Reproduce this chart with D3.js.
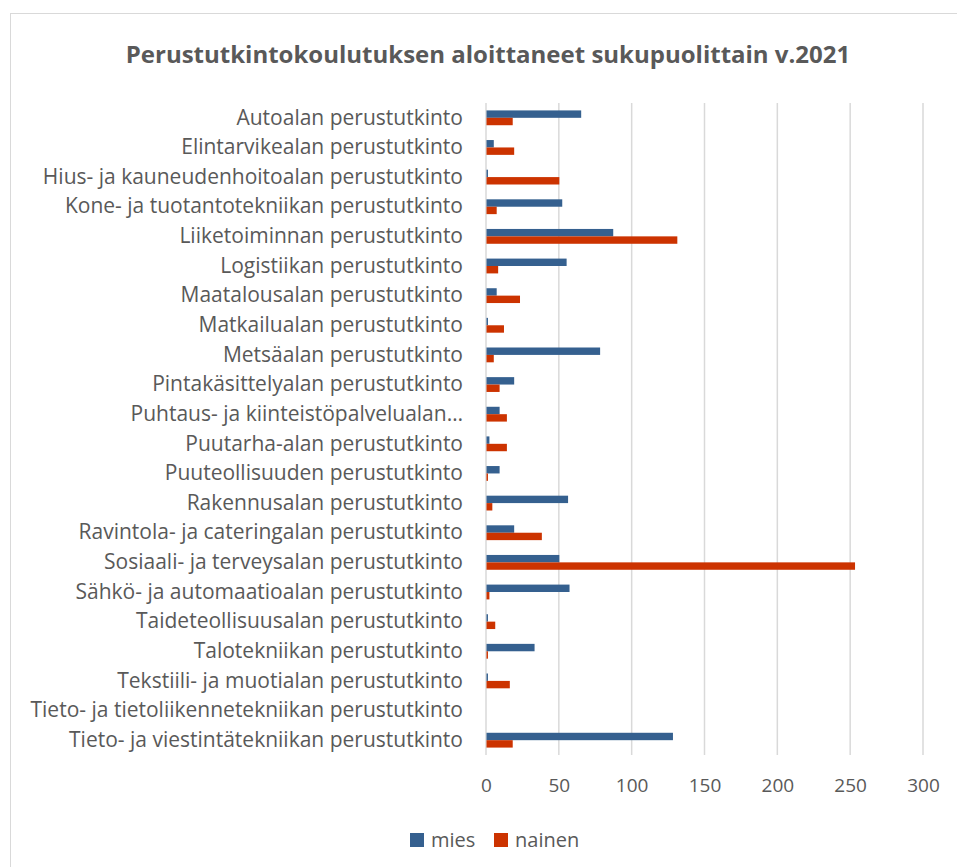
<!DOCTYPE html>
<html>
<head>
<meta charset="utf-8">
<script src="https://cdn.jsdelivr.net/npm/d3@7"></script>
<style>
  body { margin: 0; background: #fff; }
  text { font-family: "Open Sans", Lato, sans-serif; fill: #595959; }
</style>
</head>
<body>
<div id="chart"></div>
<script>
// chart data
const categories = [
  'Autoalan perustutkinto',
  'Elintarvikealan perustutkinto',
  'Hius- ja kauneudenhoitoalan perustutkinto',
  'Kone- ja tuotantotekniikan perustutkinto',
  'Liiketoiminnan perustutkinto',
  'Logistiikan perustutkinto',
  'Maatalousalan perustutkinto',
  'Matkailualan perustutkinto',
  'Metsäalan perustutkinto',
  'Pintakäsittelyalan perustutkinto',
  'Puhtaus- ja kiinteistöpalvelualan…',
  'Puutarha-alan perustutkinto',
  'Puuteollisuuden perustutkinto',
  'Rakennusalan perustutkinto',
  'Ravintola- ja cateringalan perustutkinto',
  'Sosiaali- ja terveysalan perustutkinto',
  'Sähkö- ja automaatioalan perustutkinto',
  'Taideteollisuusalan perustutkinto',
  'Talotekniikan perustutkinto',
  'Tekstiili- ja muotialan perustutkinto',
  'Tieto- ja tietoliikennetekniikan perustutkinto',
  'Tieto- ja viestintätekniikan perustutkinto'
];
const mies   = [65, 5, 1, 52, 87, 55, 7, 1, 78, 19, 9, 2, 9, 56, 19, 50, 57, 1, 33, 1, 0, 128];
const nainen = [18, 19, 50, 7, 131, 8, 23, 12, 5, 9, 14, 14, 1, 4, 38, 253, 2, 6, 1, 16, 0, 18];
const seriesNames = ['mies', 'nainen'];
const colors = ['#35608f', '#cc3300'];
const xTicks = [0, 50, 100, 150, 200, 250, 300];

const width = 957, height = 867;
const margin = { top: 103, right: 34, bottom: 112, left: 486 };

const svg = d3.select('#chart').append('svg')
  .attr('width', width)
  .attr('height', height);

// chart frame
svg.append('rect')
  .attr('x', 10.5).attr('y', 13.5)
  .attr('width', width + 20).attr('height', height + 20)
  .attr('fill', 'none')
  .attr('stroke', '#d9d9d9');

// title
svg.append('text')
  .attr('x', 488).attr('y', 63)
  .attr('text-anchor', 'middle')
  .style('font-size', '24px')
  .style('font-weight', 'bold')
  .text('Perustutkintokoulutuksen aloittaneet sukupuolittain v.2021');

const x = d3.scaleLinear().domain([0, 300]).range([margin.left, width - margin.right]);
const y = d3.scaleBand().domain(categories)
  .range([margin.top, height - margin.bottom])
  .paddingInner(0.5).paddingOuter(0.25);
const ySub = d3.scaleBand().domain(seriesNames).range([0, y.bandwidth()]);

// gridlines
svg.append('g').selectAll('line')
  .data(xTicks)
  .join('line')
  .attr('x1', (d) => x(d)).attr('x2', (d) => x(d))
  .attr('y1', margin.top).attr('y2', height - margin.bottom)
  .attr('stroke', '#d9d9d9')
  .attr('stroke-width', 1.5);

// x axis tick labels
const xAxis = svg.append('g')
  .attr('transform', `translate(0,${height - margin.bottom})`)
  .call(d3.axisBottom(x).tickValues(xTicks).tickSize(0).tickPadding(24));
xAxis.select('.domain').remove();
xAxis.selectAll('text').style('font-size', '19px').attr('fill', '#595959');

// category labels
const yAxis = svg.append('g')
  .attr('transform', `translate(${margin.left},0)`)
  .call(d3.axisLeft(y).tickSize(0).tickPadding(23));
yAxis.select('.domain').remove();
yAxis.selectAll('text').style('font-size', '21px').attr('fill', '#595959');

// bars
const rows = categories.map((c, i) => ({ cat: c, values: [mies[i], nainen[i]] }));
const groups = svg.append('g').selectAll('g')
  .data(rows)
  .join('g')
  .attr('transform', (d) => `translate(0,${y(d.cat)})`);

groups.selectAll('rect')
  .data((d) => d.values.map((v, k) => ({ name: seriesNames[k], value: v, k })))
  .join('rect')
  .attr('x', x(0) + 0.5)
  .attr('y', (d) => ySub(d.name))
  .attr('width', (d) => Math.max(0, x(d.value) - x(0)))
  .attr('height', ySub.bandwidth())
  .attr('fill', (d) => colors[d.k]);

// legend
const legend = svg.append('g').attr('transform', 'translate(410,833)');
const items = [{ name: 'mies', x: 0 }, { name: 'nainen', x: 84 }];
items.forEach((it, k) => {
  legend.append('rect')
    .attr('x', it.x).attr('y', 0)
    .attr('width', 14).attr('height', 14)
    .attr('fill', colors[k]);
  legend.append('text')
    .attr('x', it.x + 21).attr('y', 14)
    .style('font-size', '20px')
    .text(it.name);
});
</script>
</body>
</html>
